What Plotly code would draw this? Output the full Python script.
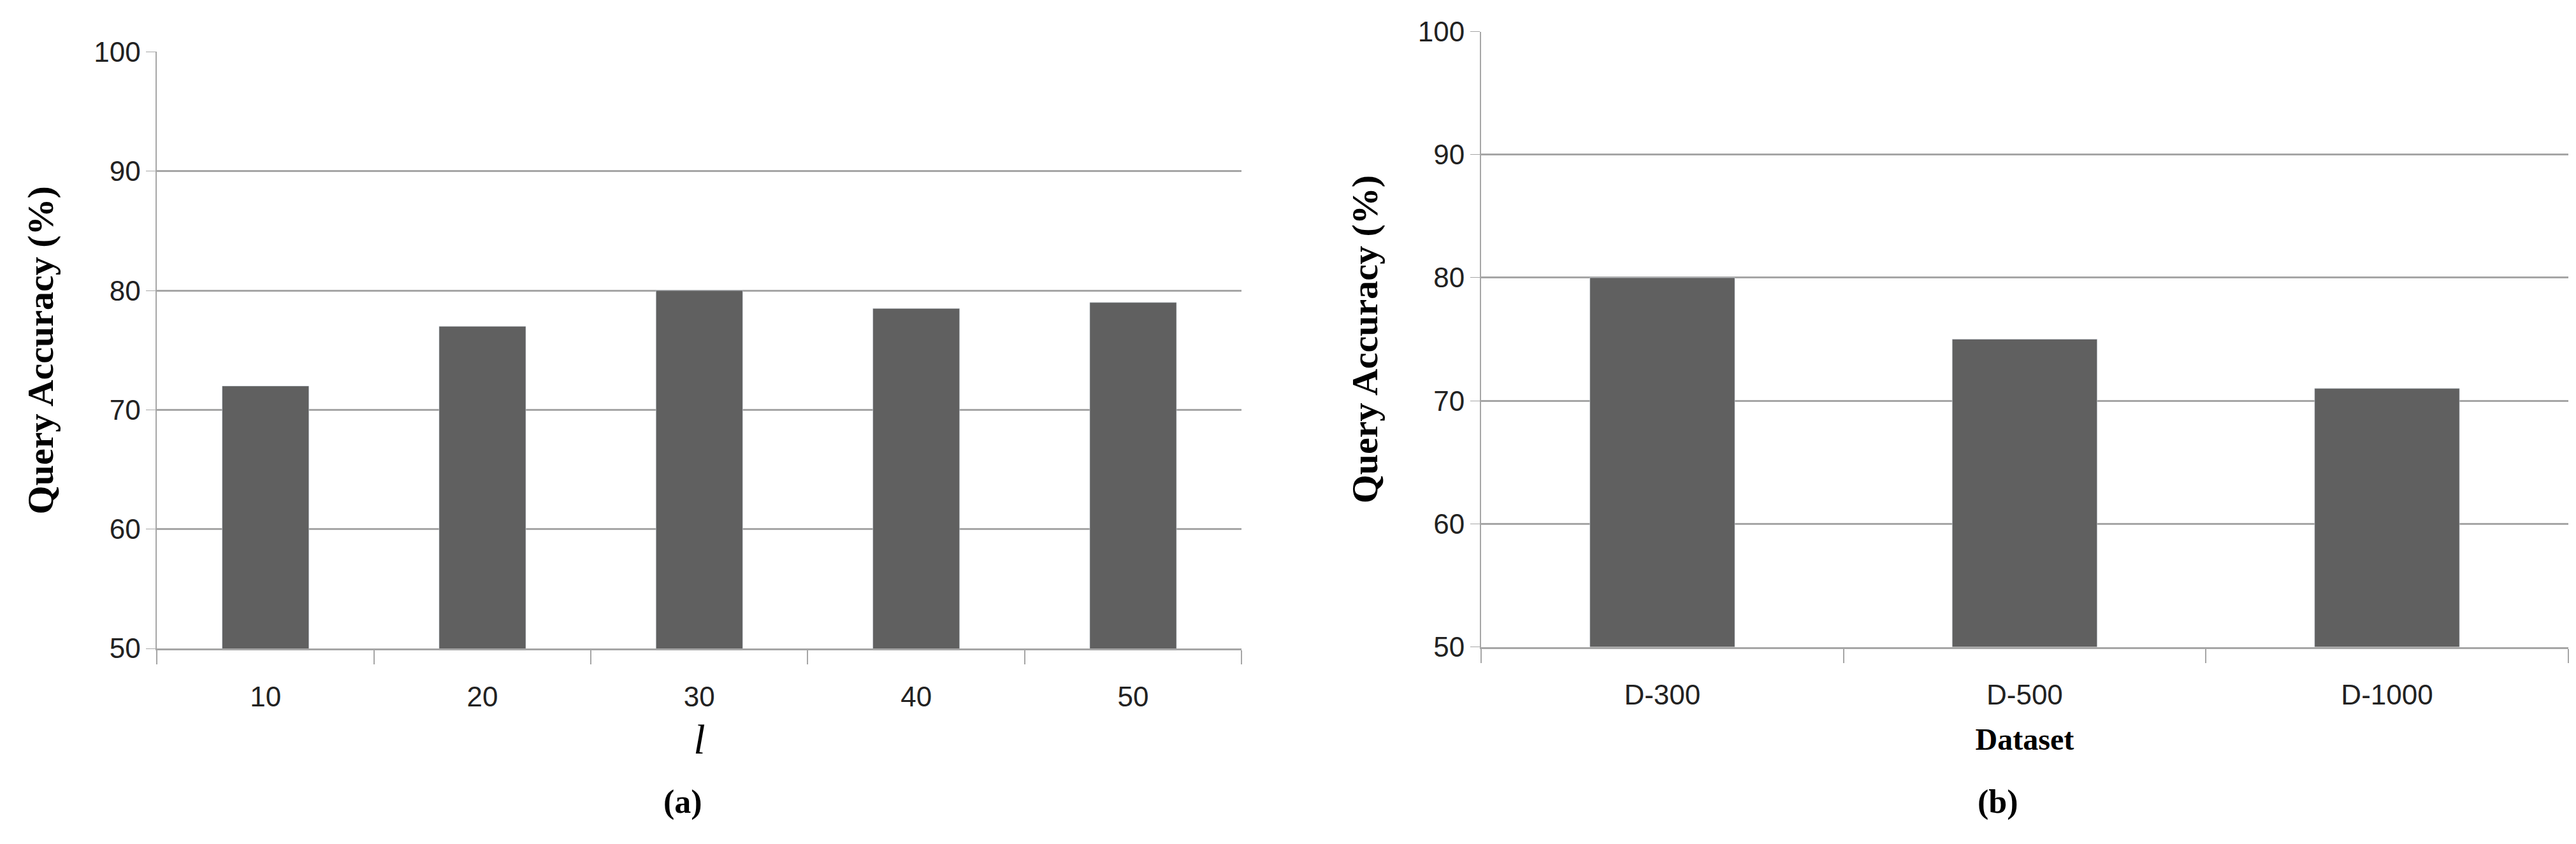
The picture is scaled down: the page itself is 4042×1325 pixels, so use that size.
import plotly.graph_objects as go
from plotly.subplots import make_subplots

# data
l_values = ["10", "20", "30", "40", "50"]
acc_l = [72, 77, 80, 78.5, 79]
datasets = ["D-300", "D-500", "D-1000"]
acc_ds = [80, 75, 71]
y_ticks = [50, 60, 70, 80, 90, 100]

bar_color = "#606060"
grid_color = "#a6a6a6"

fig = make_subplots(rows=1, cols=2)
fig.add_trace(go.Bar(x=l_values, y=acc_l, marker_color=bar_color, width=0.4), row=1, col=1)
fig.add_trace(go.Bar(x=datasets, y=acc_ds, marker_color=bar_color, width=0.4), row=1, col=2)

tick_font = dict(family="Liberation Sans Narrow, Liberation Sans", size=44, color="#222")
title_font = dict(family="Liberation Serif", size=58, color="black")

fig.update_layout(
    width=4042, height=1325, showlegend=False, bargap=0.6,
    plot_bgcolor="white", paper_bgcolor="white",
    margin=dict(l=0, r=0, t=0, b=0),
    xaxis=dict(domain=[0.059, 0.480]),
    xaxis2=dict(domain=[0.573, 0.995]),
    yaxis=dict(domain=[0.228, 0.962]),
    yaxis2=dict(domain=[0.230, 0.987]),
)
fig.update_xaxes(showline=True, linecolor=grid_color, linewidth=3, ticks="outside",
                 tickson="boundaries", ticklen=22, tickcolor=grid_color, tickwidth=2,
                 ticklabelstandoff=35, tickfont=tick_font, showgrid=False)
fig.update_yaxes(range=[50, 100], tickvals=y_ticks, showgrid=True, gridcolor=grid_color,
                 gridwidth=3, showline=True, linecolor=grid_color, linewidth=2,
                 ticks="outside", ticklen=15, tickcolor=grid_color, tickfont=tick_font,
                 zeroline=False,
                 title=dict(text="<b>Query Accuracy (%)</b>", font=title_font, standoff=45))
fig.update_xaxes(title=dict(text="<i>l</i>", font=dict(family="Liberation Serif", size=66, color="black"), standoff=20), row=1, col=1)
fig.update_xaxes(title=dict(text="<b>Dataset</b>", font=dict(family="Liberation Serif", size=48, color="black"), standoff=30), row=1, col=2)

fig.add_annotation(text="<b>(a)</b>", x=0.255, y=0.015, xref="paper", yref="paper",
                   showarrow=False, font=dict(family="Liberation Serif", size=52, color="black"))
fig.add_annotation(text="<b>(b)</b>", x=0.782, y=0.015, xref="paper", yref="paper",
                   showarrow=False, font=dict(family="Liberation Serif", size=52, color="black"))

fig.write_html("out.html")
